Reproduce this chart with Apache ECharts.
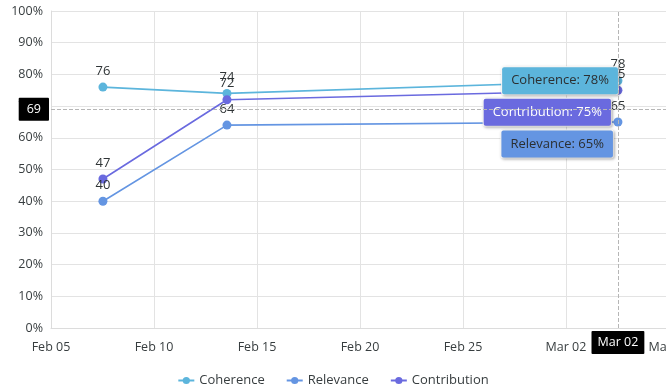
<!DOCTYPE html>
<html>
<head>
<meta charset="utf-8">
<script src="https://cdn.jsdelivr.net/npm/echarts@6/dist/echarts.min.js"></script>
<style>html,body{margin:0;padding:0;background:#fff;}#c{width:666px;height:389px;}</style>
</head>
<body>
<div id="c"></div>
<script>
// ---- data ----
const dates = [Date.UTC(2025,1,7,12,30), Date.UTC(2025,1,13,13,0), Date.UTC(2025,2,4,12,30)];
const seriesNames = ['Coherence', 'Relevance', 'Contribution'];
const coherence = [76, 74, 78];
const relevance = [40, 64, 65];
const contribution = [47, 72, 75];
const xMin = Date.UTC(2025,1,5);
const xMax = Date.UTC(2025,2,7);
const yTicks = [0,10,20,30,40,50,60,70,80,90,100];
const crossX = Date.UTC(2025,2,4,12,30);
const crossXLabel = 'Mar 02';
const crossY = 69;

const colors = ['#5cb5dc', '#6495e2', '#6a6adf'];
const boxText = ['#2b2f31', '#2b2f31', '#ffffff'];
const boxOffset = [[0, 0], [-5, 22], [-7, 22]];
const FONT = 'Open Sans';
const DAY = 86400000;
const MON = ['Jan','Feb','Mar','Apr','May','Jun','Jul','Aug','Sep','Oct','Nov','Dec'];
function fmtDate(v){ const d = new Date(v); return MON[d.getUTCMonth()] + ' ' + String(d.getUTCDate()).padStart(2,'0'); }

const values = [coherence, relevance, contribution];
const series = seriesNames.map((name, i) => {
  const last = values[i].length - 1;
  return {
    name, type: 'line',
    data: dates.map((d, j) => [d, values[i][j]]),
    symbol: 'circle', symbolSize: 9,
    lineStyle: { width: 1.6, color: colors[i] },
    itemStyle: { color: colors[i] },
    label: { show: true, position: 'top', distance: 5, color: '#2f3436', fontSize: 13, fontFamily: FONT },
    z: 3,
    markPoint: {
      symbol: 'circle', symbolSize: 0,
      silent: true,
      z: 10,
      data: [{ coord: [dates[last], values[i][last]], value: values[i][last] }],
      label: {
        show: true, position: 'left', distance: 0, offset: boxOffset[i],
        formatter: () => name + ': ' + values[i][last] + '%',
        backgroundColor: colors[i], color: boxText[i],
        borderColor: '#ffffff', borderWidth: 1, borderRadius: 2,
        padding: [6, 9, 5, 9], fontSize: 13, fontFamily: FONT, lineHeight: 16,
        shadowColor: 'rgba(0,0,0,0.25)', shadowBlur: 3, shadowOffsetX: 1, shadowOffsetY: 1
      }
    }
  };
});

const chart = echarts.init(document.getElementById('c'), null, { renderer: 'canvas' });
chart.setOption({
  animation: false,
  color: colors,
  textStyle: { fontFamily: FONT },
  grid: { left: 51, right: -3, top: 11, bottom: 61, containLabel: false, outerBoundsMode: 'none' },
  legend: {
    data: seriesNames, top: 369, left: 'center', itemGap: 21, itemWidth: 16, itemHeight: 9,
    textStyle: { color: '#373d3f', fontSize: 13, fontFamily: FONT }
  },
  xAxis: {
    type: 'value', min: xMin, max: xMax, interval: 5 * DAY,
    axisLine: { show: true, lineStyle: { color: '#dcdcdc' } },
    axisTick: { show: false },
    splitLine: { show: true, lineStyle: { color: '#e3e3e3' } },
    axisLabel: { formatter: v => fmtDate(v), color: '#373d3f', fontSize: 12.5, fontFamily: FONT, margin: 13, showMaxLabel: true, showMinLabel: true, hideOverlap: false },
    axisPointer: {
      show: true, value: crossX, status: 'show', triggerTooltip: false,
      lineStyle: { color: '#b6b6b6', type: 'dashed', width: 1 },
      label: { show: true, formatter: () => crossXLabel, backgroundColor: '#000', color: '#fff', padding: [5, 6, 5, 6], fontSize: 12.5, fontFamily: FONT, borderRadius: 1, margin: 3 }
    }
  },
  yAxis: {
    type: 'value', min: yTicks[0], max: yTicks[yTicks.length - 1], interval: yTicks[1] - yTicks[0],
    axisLine: { show: true, lineStyle: { color: '#dcdcdc' } },
    axisTick: { show: false },
    splitLine: { show: true, lineStyle: { color: '#e3e3e3' } },
    axisLabel: { formatter: '{value}%', color: '#373d3f', fontSize: 12.5, fontFamily: FONT, margin: 8 },
    axisPointer: {
      show: true, value: crossY, status: 'show', triggerTooltip: false,
      lineStyle: { color: '#b6b6b6', type: 'dashed', width: 1 },
      label: { show: true, formatter: p => String(Math.round(p.value)), backgroundColor: '#000', color: '#fff', padding: [5, 8, 5, 8], fontSize: 12.5, fontFamily: FONT, borderRadius: 1, margin: 2 }
    }
  },
  series
});
</script>
</body>
</html>
